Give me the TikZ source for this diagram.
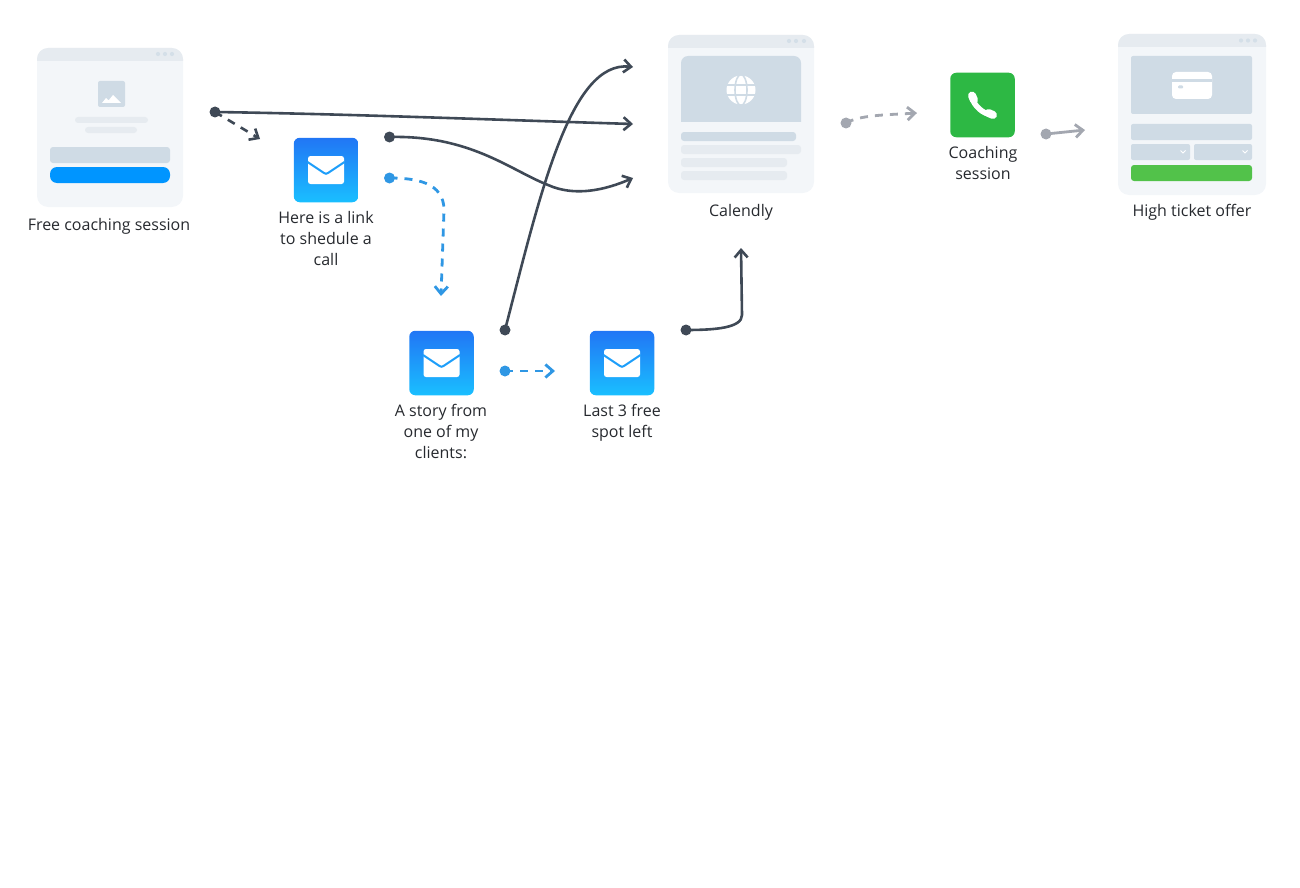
\documentclass[tikz,border=0pt]{standalone}
\usepackage{fontspec}
\setmainfont{Open Sans}
\usetikzlibrary{arrows.meta}
\usetikzlibrary{positioning}
\definecolor{pagebg}{HTML}{F3F6F9}
\definecolor{pagehd}{HTML}{E6EBF0}
\definecolor{slate}{HTML}{CFDBE5}
\definecolor{dotc}{HTML}{D4DFE8}
\definecolor{inkc}{HTML}{3F4956}
\definecolor{bluec}{HTML}{2F97E4}
\definecolor{greyc}{HTML}{A3A7B0}
\definecolor{txtc}{HTML}{26292E}
\definecolor{mailtop}{HTML}{2176F5}
\definecolor{mailbot}{HTML}{1ABFFF}
\definecolor{phonec}{HTML}{2DB844}
\definecolor{btnc}{HTML}{0095FF}
\definecolor{buyc}{HTML}{52C24A}
\tikzset{
  x=1pt, y=-1pt,
  >={Straight Barb[length=7.5pt,width=13pt]},
  pagebox/.style={fill=pagebg, rounded corners=11pt, inner sep=0pt},
  mailbox/.style={minimum size=64.5pt, inner sep=0pt, rounded corners=6pt, top color=mailtop, bottom color=mailbot},
  phonebox/.style={minimum size=64.5pt, inner sep=0pt, rounded corners=6pt, fill=phonec},
  lbl/.style={font=\fontsize{16}{21}\selectfont, text=txtc, align=center, inner sep=0pt},
  pin/.style={circle, inner sep=0pt, minimum size=11pt},
  inkline/.style={inkc, line width=2.6pt, ->},
  blueline/.style={bluec, line width=2.8pt, ->},
  greyline/.style={greyc, line width=2.8pt, ->},
  dashline/.style={dash pattern=on 8pt off 7pt},
  bar/.style={rounded corners=2pt},
}
\begin{document}
\begin{tikzpicture}
\useasboundingbox (0,0) rectangle (1300,888);
% pages
\node[pagebox, minimum width=146pt, minimum height=159pt] (free) at (110,127.5) {};
\node[pagebox, minimum width=146pt, minimum height=158pt] (cal) at (741,114) {};
\node[pagebox, minimum width=148pt, minimum height=161pt] (offer) at (1192,114.5) {};
\fill[pagehd] (37,61) [rounded corners=11pt] -- (37,48) -- (183,48) [sharp corners] -- (183,61) -- cycle;
\fill[pagehd] (668,48) [rounded corners=11pt] -- (668,35) -- (814,35) [sharp corners] -- (814,48) -- cycle;
\fill[pagehd] (1118,47) [rounded corners=11pt] -- (1118,34) -- (1266,34) [sharp corners] -- (1266,47) -- cycle;
\foreach \dx in {158,165,172} \fill[dotc] (\dx,54) circle (2.1);
\foreach \dx in {789,796,804} \fill[dotc] (\dx,41) circle (2.1);
\foreach \dx in {1241,1248,1255} \fill[dotc] (\dx,40.5) circle (2.1);
% free coaching page
\fill[slate, bar] (98,81) rectangle (125,107);
\fill[white] (102,103) -- (106,98) -- (108.5,100.5) -- (113,95) -- (121,103) -- cycle;
\fill[pagehd, rounded corners=3pt] (75,117) rectangle (148,123);
\fill[pagehd, rounded corners=3pt] (85,127) rectangle (137,133);
\fill[slate, rounded corners=3pt] (50,147) rectangle (170,163);
\fill[btnc, rounded corners=7pt] (50,167) rectangle (170,183);
% calendly page
\fill[slate] (681,122) [rounded corners=7pt] -- (681,56) -- (801,56) [sharp corners] -- (801,122) -- cycle;
\fill[white] (741,90) circle (14.5);
\draw[slate, line width=1.6pt] (726,85) -- (756,85) (726,95) -- (756,95);
\draw[slate, line width=1.6pt] (741,90) ellipse (6 and 15.5);
\fill[slate, rounded corners=3pt] (681,132) rectangle (796,141);
\fill[pagehd, rounded corners=3pt] (681,145) rectangle (801,154);
\fill[pagehd, rounded corners=3pt] (681,158) rectangle (787,167);
\fill[pagehd, rounded corners=3pt] (681,171) rectangle (787,180);
% offer page
\fill[slate, bar] (1131,56) rectangle (1252,114);
\fill[white, rounded corners=4pt] (1172,72) rectangle (1212,99);
\fill[slate] (1172,79) rectangle (1212,82);
\fill[slate, rounded corners=1pt] (1178,85.5) rectangle (1183,88.5);
\fill[slate, bar] (1131,124) rectangle (1252,140);
\fill[slate, bar] (1131,144) rectangle (1190,160);
\fill[slate, bar] (1194,144) rectangle (1252,160);
\foreach \dx in {1183,1245} \draw[white, line width=1pt] (\dx-2.5,150.5) -- (\dx,153) -- (\dx+2.5,150.5);
\fill[buyc, rounded corners=3pt] (1131,165) rectangle (1252,181);
% icons
\node[mailbox] (mail1) at (326,170) {};
\node[mailbox] (mail2) at (441.5,363) {};
\node[mailbox] (mail3) at (622,363) {};
\node[phonebox] (phone) at (982.5,105) {};
\foreach \m in {mail1,mail2,mail3} {
  \begin{scope}[shift={(\m)}]
    \fill[white, rounded corners=2.5pt] (-18,-14) rectangle (18,14);
    \draw[mailtop!45!mailbot, line width=2pt] (-18.5,-8) -- (-2,3) .. controls (-0.5,4) and (0.5,4) .. (2,3) -- (18.5,-8);
  \end{scope}
}
\begin{scope}[shift={(phone)}]
  \draw[white, line width=5.5pt, line cap=round] (-11,-8) .. controls (-8,1) and (0,9) .. (10,10);
  \draw[white, line width=8pt, line cap=round] (-10.5,-9.5) -- (-8.5,-5);
  \draw[white, line width=8pt, line cap=round] (6,8) -- (10.5,10);
\end{scope}
% labels
\node[lbl] (freetxt) at (109,226) {Free coaching session};
\node[lbl, anchor=north] (mail1txt) at (326,211.5) {Here is a link\\to shedule a\\call};
\node[lbl, anchor=north] (mail2txt) at (441,404.5) {A story from\\one of my\\clients:};
\node[lbl, anchor=north] (mail3txt) at (622,404.5) {Last 3 free\\spot left};
\node[lbl] (caltxt) at (741,212.5) {Calendly};
\node[lbl, anchor=north] (phonetxt) at (983,146.5) {Coaching\\session};
\node[lbl] (offertxt) at (1192,212.5) {High ticket offer};
% pins
\node[pin, fill=inkc] (p1) at (215,112) {};
\node[pin, fill=inkc] (p2) at (389.5,137) {};
\node[pin, fill=bluec] (p3) at (389.5,178) {};
\node[pin, fill=inkc] (p4) at (505,330) {};
\node[pin, fill=inkc] (p5) at (686,330) {};
\node[pin, fill=bluec] (p6) at (505,371) {};
\node[pin, fill=greyc] (p7) at (846,123) {};
\node[pin, fill=greyc] (p8) at (1046,134) {};
\coordinate (t1) at (260,139);
\coordinate (t2) at (633,124);
\coordinate (t3) at (633,178);
\coordinate (t4) at (633,67);
\coordinate (t5) at (441,296);
\coordinate (t6) at (741,248);
\coordinate (t7) at (555,371);
\coordinate (t8) at (917,113);
\coordinate (t9) at (1085,130);
\coordinate (m1) at (444,210);
\coordinate (m2) at (548,185);
% connectors
\draw[inkline, dashline] (p1.center) -- (t1);
\draw[inkline] (p1.center) .. controls (350,114) and (500,120) .. (t2);
\draw[inkline] (p2.center) .. controls (470,135) and (510,170) .. (m2) .. controls (575,197) and (605,190) .. (t3);
\draw[blueline, dashline] (p3.center) .. controls (415,178) and (444,182) .. (m1) -- (t5);
\draw[inkline] (p4.center) .. controls (540,195) and (570,60) .. (t4);
\draw[inkline] (p5.center) .. controls (715,330) and (742,328) .. (742,315) -- (t6);
\draw[blueline, dashline] (p6.center) -- (t7);
\draw[greyline, dashline] (p7.center) .. controls (860,115) and (885,115) .. (t8);
\draw[greyline] (p8.center) -- (t9);
\end{tikzpicture}
\end{document}
